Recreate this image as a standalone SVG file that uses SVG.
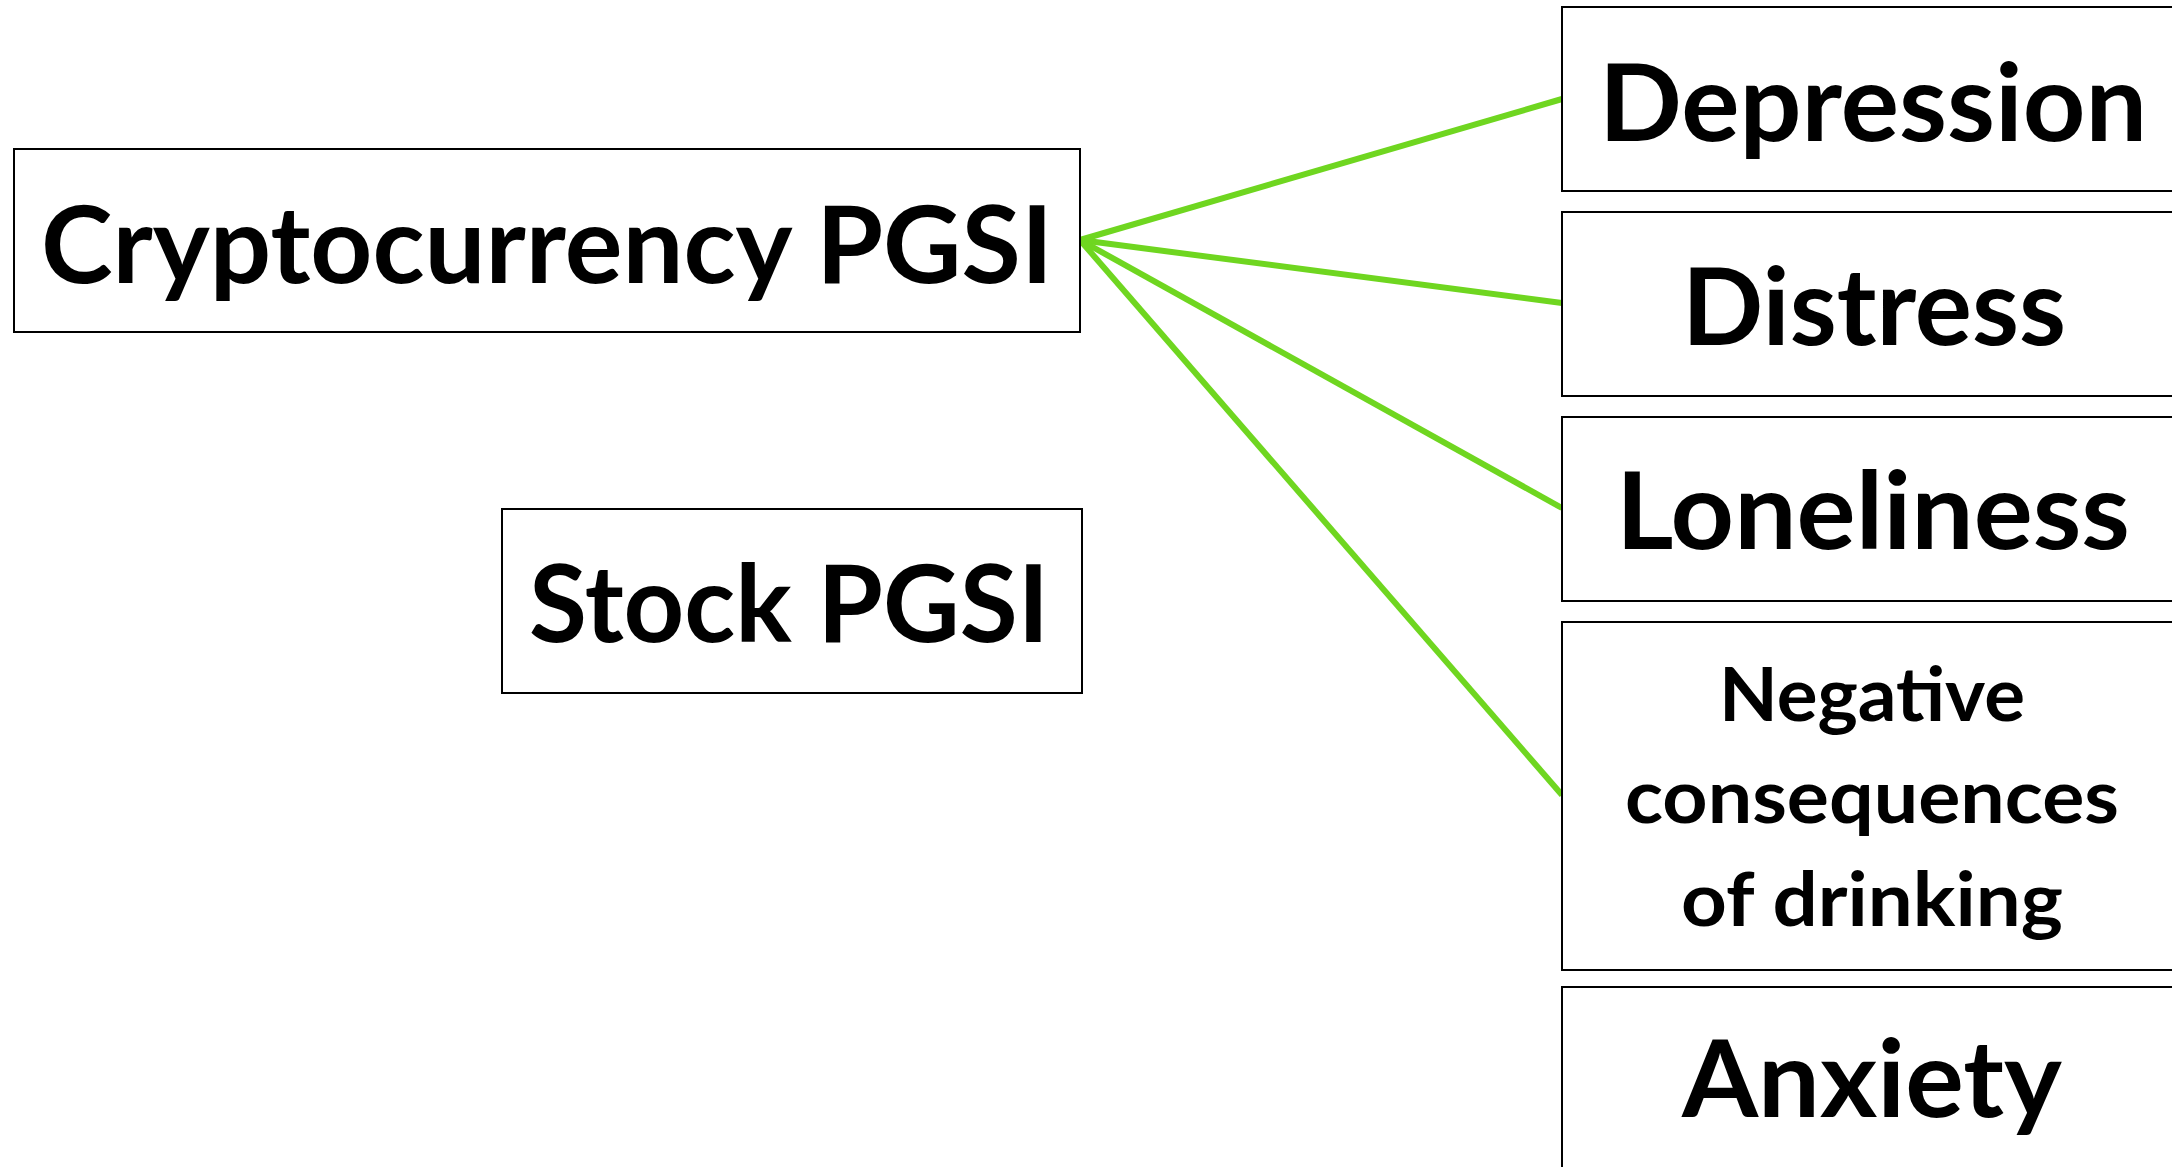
<svg xmlns="http://www.w3.org/2000/svg" width="2172" height="1167" viewBox="0 0 2172 1167">
<style>
.box{fill:#fff;stroke:#000;stroke-width:2}
.t{font-family:Lato,"Open Sans","Liberation Sans",sans-serif;font-weight:700;font-size:107px;fill:#000;text-anchor:middle}
.s{font-size:75px}
.c{stroke:#6fd620;stroke-width:6;fill:none;stroke-linecap:butt}
</style>
<rect width="2172" height="1167" fill="#fff"/>
<g id="connectors">
<line class="c" x1="1080" y1="240" x2="1562" y2="99"/>
<line class="c" x1="1080" y1="240" x2="1562" y2="303"/>
<line class="c" x1="1080" y1="240" x2="1562" y2="508"/>
<line class="c" x1="1080" y1="240" x2="1562" y2="795"/>
</g>
<g id="crypto">
<rect class="box" x="14" y="149" width="1066" height="183"/>
<text class="t" x="547" y="283" textLength="1012" lengthAdjust="spacingAndGlyphs">Cryptocurrency PGSI</text>
</g>
<g id="stock">
<rect class="box" x="502" y="509" width="580" height="184"/>
<text class="t" x="789" y="642" textLength="520" lengthAdjust="spacingAndGlyphs">Stock PGSI</text>
</g>
<g id="depression">
<rect class="box" x="1562" y="7" width="622" height="184"/>
<text class="t" x="1873" y="141" textLength="548" lengthAdjust="spacingAndGlyphs">Depression</text>
</g>
<g id="distress">
<rect class="box" x="1562" y="212" width="622" height="184"/>
<text class="t" x="1874" y="345" textLength="384" lengthAdjust="spacingAndGlyphs">Distress</text>
</g>
<g id="loneliness">
<rect class="box" x="1562" y="417" width="622" height="184"/>
<text class="t" x="1873" y="549" textLength="514" lengthAdjust="spacingAndGlyphs">Loneliness</text>
</g>
<g id="negative">
<rect class="box" x="1562" y="622" width="622" height="348"/>
<text class="t s" x="1872" y="721" textLength="306" lengthAdjust="spacingAndGlyphs">Negative</text>
<text class="t s" x="1872" y="823" textLength="494" lengthAdjust="spacingAndGlyphs">consequences</text>
<text class="t s" x="1872" y="926" textLength="382" lengthAdjust="spacingAndGlyphs">of drinking</text>
</g>
<g id="anxiety">
<rect class="box" x="1562" y="987" width="622" height="220"/>
<text class="t" x="1872" y="1117" textLength="380" lengthAdjust="spacingAndGlyphs">Anxiety</text>
</g>
</svg>
